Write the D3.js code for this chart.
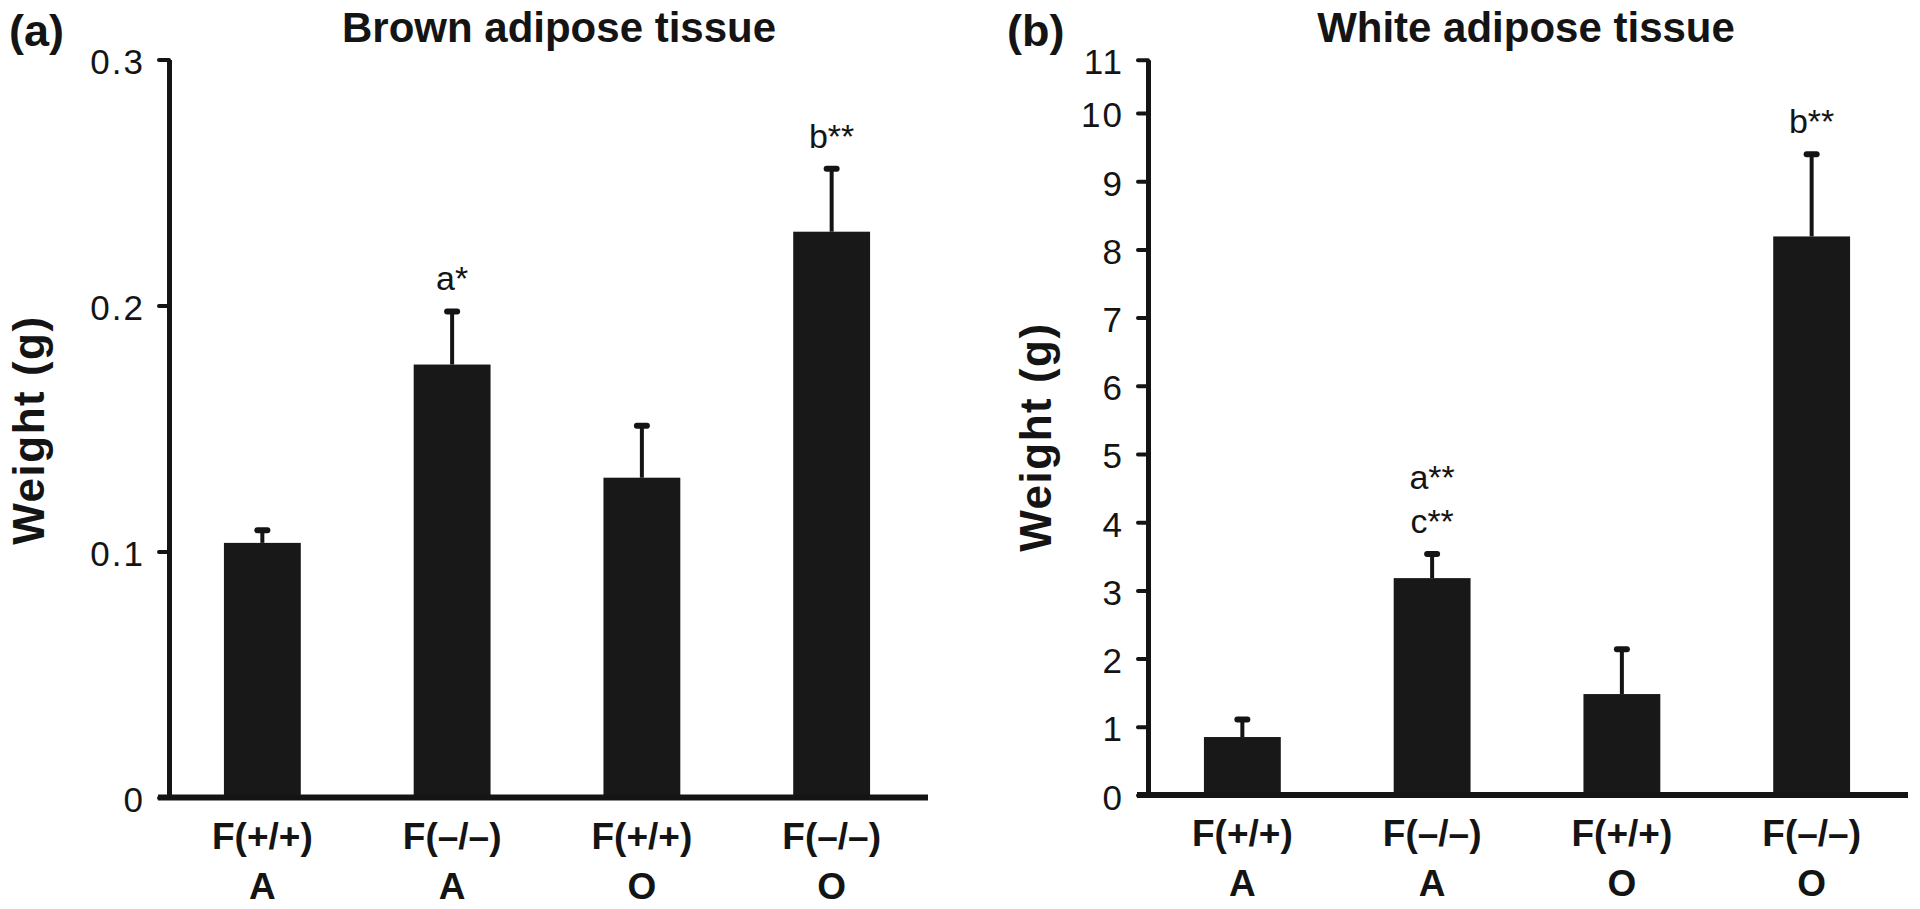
<!DOCTYPE html>
<html>
<head>
<meta charset="utf-8">
<script src="https://cdn.jsdelivr.net/npm/d3@7"></script>
<style>
  html, body { margin: 0; padding: 0; background: #ffffff; }
  svg { display: block; }
  text { font-family: "Liberation Sans", Arial, Helvetica, sans-serif; fill: #141414; }
</style>
</head>
<body>
<svg id="chart" width="1920" height="909"></svg>
<script>
// ---------------- data ----------------
const categories = ["F(+/+) A", "F(–/–) A", "F(+/+) O", "F(–/–) O"];
const genotypeLabels = ["F(+/+)", "F(–/–)", "F(+/+)", "F(–/–)"];
const groupLabels = ["A", "A", "O", "O"];

const brownMeans = [0.1035, 0.176, 0.130, 0.230];
const brownErrors = [0.0055, 0.022, 0.0215, 0.026];
const brownSignif = [[], ["a*"], [], ["b**"]];
const brownTicks = [0, 0.1, 0.2, 0.3];
const brownTickLabels = ["0", "0.1", "0.2", "0.3"];

const whiteMeans = [0.85, 3.18, 1.48, 8.19];
const whiteErrors = [0.27, 0.37, 0.67, 1.22];
const whiteSignif = [[], ["a**", "c**"], [], ["b**"]];
const whiteTicks = [0, 1, 2, 3, 4, 5, 6, 7, 8, 9, 10, 10.78];
const whiteTickLabels = ["0", "1", "2", "3", "4", "5", "6", "7", "8", "9", "10", "11"];

const panelLetters = ["(a)", "(b)"];
const panelTitles = ["Brown adipose tissue", "White adipose tissue"];
const yAxisTitle = "Weight (g)";

// ---------------- drawing ----------------
const svg = d3.select("#chart");
const INK = "#141414";

function drawPanel(opt) {
  const g = svg.append("g");

  const x = d3.scaleBand()
    .domain(categories)
    .range([opt.x0, opt.x1])
    .paddingInner(0.595)
    .paddingOuter(0.3);

  const y = d3.scaleLinear()
    .domain([0, opt.yMax])
    .range([opt.yBottom, opt.yTop]);

  // bars
  g.selectAll("rect.bar")
    .data(opt.means)
    .join("rect")
    .attr("class", "bar")
    .attr("x", (d, i) => x(categories[i]))
    .attr("width", x.bandwidth())
    .attr("y", d => y(d))
    .attr("height", d => y(0) - y(d))
    .attr("fill", "#181818");

  // error bars (upper only)
  const cx = i => x(categories[i]) + x.bandwidth() / 2;
  g.selectAll("line.stem")
    .data(opt.means)
    .join("line")
    .attr("x1", (d, i) => cx(i))
    .attr("x2", (d, i) => cx(i))
    .attr("y1", d => y(d))
    .attr("y2", (d, i) => y(d + opt.errors[i]))
    .attr("stroke", INK)
    .attr("stroke-width", 4);
  g.selectAll("line.cap")
    .data(opt.means)
    .join("line")
    .attr("x1", (d, i) => cx(i) - 5)
    .attr("x2", (d, i) => cx(i) + 5)
    .attr("y1", (d, i) => y(d + opt.errors[i]) + 1)
    .attr("y2", (d, i) => y(d + opt.errors[i]) + 1)
    .attr("stroke", INK)
    .attr("stroke-width", 6)
    .attr("stroke-linecap", "round");

  // significance labels
  opt.means.forEach((d, i) => {
    const labs = opt.signif[i];
    const top = y(d + opt.errors[i]);
    labs.forEach((lab, j) => {
      g.append("text")
        .attr("x", cx(i))
        .attr("y", top - opt.labelGap - (labs.length - 1 - j) * 44)
        .attr("text-anchor", "middle")
        .attr("font-size", 34)
        .text(lab);
    });
  });

  // y axis
  const yAxis = d3.axisLeft(y)
    .tickValues(opt.ticks)
    .tickFormat((d, i) => opt.tickLabels[i])
    .tickSize(10)
    .tickSizeOuter(0)
    .tickPadding(14);
  const ya = g.append("g")
    .attr("transform", `translate(${opt.axisX},0)`)
    .call(yAxis);
  ya.select(".domain").attr("stroke", INK).attr("stroke-width", 5);
  ya.selectAll(".tick line").attr("stroke", INK).attr("stroke-width", 4).attr("stroke-linecap", "round");
  ya.selectAll(".tick text")
    .attr("font-family", "Liberation Sans, Arial, sans-serif")
    .attr("font-size", 35)
    .attr("letter-spacing", "2px")
    .attr("fill", INK)
    .attr("dy", "0.4em");

  // baseline (x axis)
  const xAxis = d3.axisBottom(x)
    .tickSize(0)
    .tickSizeOuter(0)
    .tickFormat("");
  const xa = g.append("g")
    .attr("transform", `translate(0,${y(0)})`)
    .call(xAxis);
  xa.select(".domain")
    .attr("d", `M${opt.axisX - 11},0H${opt.x1 + 1}`)
    .attr("stroke", INK)
    .attr("stroke-width", 6);
  xa.selectAll(".tick").each(function (d, i) {
    const t = d3.select(this).append("text")
      .attr("text-anchor", "middle")
      .attr("font-weight", "bold")
      .attr("font-size", 37)
      .attr("fill", INK);
    t.append("tspan").attr("x", 0).attr("y", 51).text(genotypeLabels[i]);
    t.append("tspan").attr("x", 0).attr("y", 101).text(groupLabels[i]);
  });

  // y axis title
  g.append("text")
    .attr("transform", `translate(${opt.yTitleX},${opt.yTitleY}) rotate(-90)`)
    .attr("text-anchor", "middle")
    .attr("font-weight", "bold")
    .attr("font-size", 44)
    .attr("letter-spacing", "1.5px")
    .text(yAxisTitle);

  // panel letter & title
  g.append("text")
    .attr("x", opt.letterX)
    .attr("y", 46)
    .attr("font-weight", "bold")
    .attr("font-size", 45)
    .text(opt.letter);
  g.append("text")
    .attr("x", opt.titleX)
    .attr("y", 42)
    .attr("text-anchor", "middle")
    .attr("font-weight", "bold")
    .attr("font-size", 42)
    .text(opt.title);
}

drawPanel({
  means: brownMeans, errors: brownErrors, signif: brownSignif,
  ticks: brownTicks, tickLabels: brownTickLabels, yMax: 0.3,
  x0: 167, x1: 927, axisX: 169, yBottom: 797.5, yTop: 59.5,
  labelGap: 20,
  yTitleX: 44, yTitleY: 430,
  letter: panelLetters[0], letterX: 9,
  title: panelTitles[0], titleX: 559
});

drawPanel({
  means: whiteMeans, errors: whiteErrors, signif: whiteSignif,
  ticks: whiteTicks, tickLabels: whiteTickLabels, yMax: 10.78,
  x0: 1147, x1: 1907, axisX: 1148, yBottom: 795, yTop: 59.8,
  labelGap: 20,
  yTitleX: 1051, yTitleY: 437,
  letter: panelLetters[1], letterX: 1007,
  title: panelTitles[1], titleX: 1526
});
</script>
</body>
</html>
